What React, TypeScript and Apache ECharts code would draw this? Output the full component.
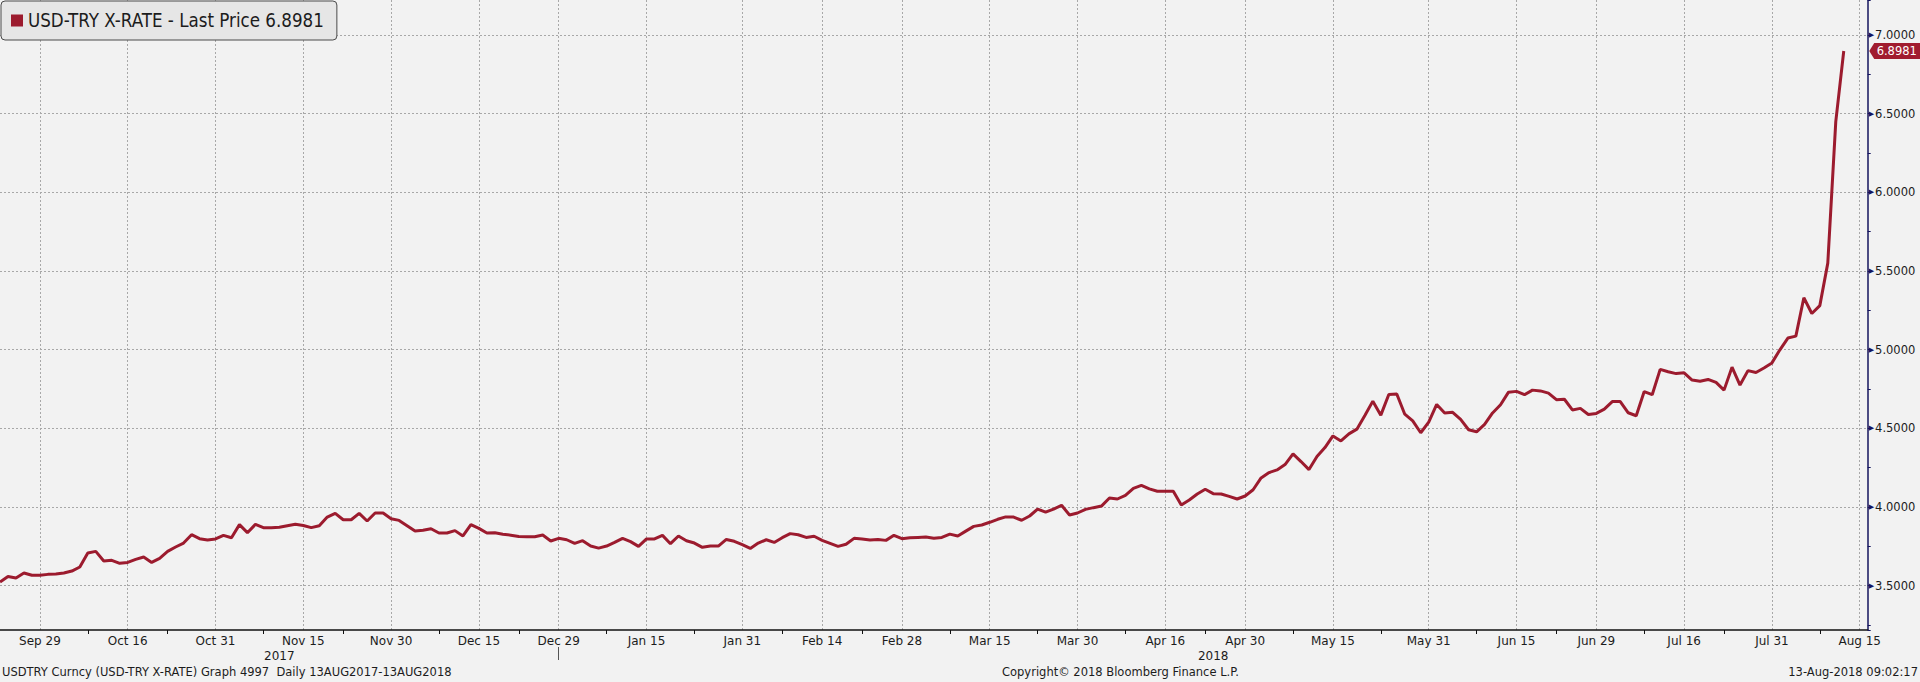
import React, { useEffect, useRef } from 'react';
import * as echarts from 'echarts';

// ---- categories (weekdays, Bloomberg style: no weekend gaps) ----
const FIRST_DAY = '2017-09-22';
const LAST_DAY = '2018-08-16';

// labelled dates on the x axis (also carry a vertical grid line)
const labelDates = [
  '2017-09-29', '2017-10-16', '2017-10-31', '2017-11-15', '2017-11-30', '2017-12-15', '2017-12-29',
  '2018-01-15', '2018-01-31', '2018-02-14', '2018-02-28', '2018-03-15', '2018-03-30', '2018-04-16',
  '2018-04-30', '2018-05-15', '2018-05-31', '2018-06-15', '2018-06-29', '2018-07-16', '2018-07-31',
  '2018-08-15',
];
// small ticks between labels
const minorTickDates = [
  '2017-10-09', '2017-10-23', '2017-11-08', '2017-11-22', '2017-12-08', '2017-12-22', '2018-01-08',
  '2018-01-23', '2018-02-07', '2018-02-21', '2018-03-08', '2018-03-23', '2018-04-09', '2018-04-23',
  '2018-05-08', '2018-05-23', '2018-06-08', '2018-06-22', '2018-07-09', '2018-07-23', '2018-08-08',
];
const yearSeparatorDates = ['2017-12-29'];
const yearLabelDates = ['2017-11-10', '2018-04-24'];

// ---- USD-TRY daily prices ----
const pricesSep2017 = [3.523, 3.559, 3.549, 3.581, 3.566, 3.566];
const pricesOct2017 = [3.572, 3.574, 3.581, 3.593, 3.619, 3.708, 3.718, 3.657, 3.661, 3.642, 3.648, 3.667, 3.682, 3.648, 3.674, 3.718, 3.746, 3.771, 3.824, 3.799, 3.790, 3.797];
const pricesNov2017 = [3.820, 3.805, 3.888, 3.837, 3.890, 3.869, 3.869, 3.871, 3.881, 3.890, 3.883, 3.869, 3.881, 3.936, 3.960, 3.919, 3.919, 3.960, 3.911, 3.962, 3.962, 3.926];
const pricesDec2017 = [3.915, 3.881, 3.847, 3.852, 3.862, 3.835, 3.835, 3.850, 3.816, 3.888, 3.864, 3.835, 3.837, 3.827, 3.821, 3.813, 3.811, 3.811, 3.822, 3.784, 3.801];
const pricesJan2018 = [3.792, 3.769, 3.786, 3.752, 3.739, 3.752, 3.775, 3.801, 3.780, 3.750, 3.797, 3.797, 3.820, 3.767, 3.816, 3.786, 3.771, 3.744, 3.752, 3.752, 3.794, 3.782, 3.761];
const pricesFeb2018 = [3.737, 3.771, 3.792, 3.775, 3.805, 3.831, 3.824, 3.807, 3.814, 3.788, 3.769, 3.750, 3.763, 3.801, 3.797, 3.790, 3.794, 3.788, 3.820, 3.799];
const pricesMar2018 = [3.805, 3.807, 3.809, 3.801, 3.807, 3.828, 3.816, 3.847, 3.877, 3.886, 3.903, 3.922, 3.937, 3.936, 3.916, 3.943, 3.987, 3.968, 3.987, 4.011, 3.949, 3.962];
const pricesApr2018 = [3.985, 3.996, 4.006, 4.057, 4.051, 4.074, 4.119, 4.138, 4.115, 4.100, 4.100, 4.100, 4.013, 4.045, 4.083, 4.113, 4.085, 4.083, 4.068, 4.051, 4.070];
const pricesMay2018 = [4.110, 4.185, 4.219, 4.236, 4.270, 4.338, 4.289, 4.238, 4.321, 4.378, 4.452, 4.420, 4.465, 4.495, 4.582, 4.673, 4.584, 4.715, 4.718, 4.590, 4.548, 4.472, 4.540];
const pricesJun2018 = [4.652, 4.598, 4.602, 4.557, 4.491, 4.478, 4.525, 4.598, 4.650, 4.730, 4.735, 4.714, 4.743, 4.738, 4.724, 4.682, 4.685, 4.617, 4.627, 4.588, 4.595];
const pricesJul2018 = [4.622, 4.670, 4.670, 4.599, 4.580, 4.734, 4.714, 4.875, 4.860, 4.848, 4.853, 4.807, 4.799, 4.811, 4.792, 4.743, 4.889, 4.775, 4.867, 4.855, 4.884, 4.916];
const pricesAug2018 = [4.999, 5.074, 5.086, 5.330, 5.230, 5.280, 5.550, 6.450, 6.8981];

const SERIES_NAME = 'USD-TRY X-RATE';
const Y_MIN = 3.2184;
const Y_MAX = 7.2225;

const FOOTER_LEFT = 'USDTRY Curncy (USD-TRY X-RATE) Graph 4997  Daily 13AUG2017-13AUG2018';
const FOOTER_MID = 'Copyright\u00A9 2018 Bloomberg Finance L.P.';
const FOOTER_RIGHT = '13-Aug-2018 09:02:17';

const MONTHS = ['Jan', 'Feb', 'Mar', 'Apr', 'May', 'Jun', 'Jul', 'Aug', 'Sep', 'Oct', 'Nov', 'Dec'];

function weekdays(from: string, to: string): string[] {
  const out: string[] = [];
  const d = new Date(from + 'T00:00:00Z');
  const end = new Date(to + 'T00:00:00Z');
  while (d.getTime() <= end.getTime()) {
    const wd = d.getUTCDay();
    if (wd !== 0 && wd !== 6) out.push(d.toISOString().slice(0, 10));
    d.setUTCDate(d.getUTCDate() + 1);
  }
  return out;
}

function fmtDate(s: string): string {
  const m = parseInt(s.slice(5, 7), 10);
  const day = parseInt(s.slice(8, 10), 10);
  return `${MONTHS[m - 1]} ${day}`;
}

const FONT = "'DejaVu Sans', sans-serif";
const LEGEND_FONT = "'DejaVu Sans Condensed', 'DejaVu Sans', sans-serif";
const TEXT = '#1c1c1c';
const RED = '#9c1b2e';
const NAVY = '#14145e';

export default function App() {
  const ref = useRef<HTMLDivElement>(null);

  useEffect(() => {
    if (!ref.current) return;
    const chart = echarts.init(ref.current, undefined, { renderer: 'svg' });

    const categories = weekdays(FIRST_DAY, LAST_DAY);
    const prices = [
      ...pricesSep2017, ...pricesOct2017, ...pricesNov2017, ...pricesDec2017,
      ...pricesJan2018, ...pricesFeb2018, ...pricesMar2018, ...pricesApr2018,
      ...pricesMay2018, ...pricesJun2018, ...pricesJul2018, ...pricesAug2018,
    ];
    const lastIdx = prices.length - 1;
    const lastPrice = prices[lastIdx];

    const gridBox = { left: -4.3, right: 52.3, top: 0, bottom: 52 };

    const option: any = {
      animation: false,
      backgroundColor: '#f2f2f2',
      textStyle: { fontFamily: FONT },
      grid: [
        { ...gridBox, containLabel: false },
        { ...gridBox, containLabel: false },
      ],
      legend: {
        left: 1,
        top: 1,
        data: [{ name: SERIES_NAME, icon: 'rect' }],
        itemWidth: 12,
        itemHeight: 12,
        itemGap: 0,
        padding: [10, 13, 10, 10],
        backgroundColor: '#e6e6e6',
        borderColor: '#4a4a4a',
        borderWidth: 1,
        borderRadius: 4,
        selectedMode: false,
        formatter: (name: string) => `${name} - Last Price ${lastPrice.toFixed(4)}`,
        textStyle: { fontFamily: LEGEND_FONT, fontSize: 18.6, color: TEXT },
      },
      xAxis: [
        {
          type: 'category',
          gridIndex: 0,
          data: categories,
          boundaryGap: false,
          position: 'bottom',
          axisLine: { show: true, lineStyle: { color: '#111111', width: 1.5 } },
          axisTick: {
            show: true,
            length: 4,
            interval: (_i: number, v: string) => minorTickDates.includes(v),
            lineStyle: { color: '#111111', width: 1 },
          },
          axisLabel: {
            show: true,
            interval: (_i: number, v: string) => labelDates.includes(v),
            formatter: (v: string) => fmtDate(v),
            fontFamily: FONT,
            fontSize: 12,
            color: TEXT,
            margin: 5,
          },
          splitLine: {
            show: true,
            interval: (_i: number, v: string) => labelDates.includes(v),
            lineStyle: { color: '#a8a8a8', type: [2, 2], width: 1 },
          },
        },
        {
          type: 'category',
          gridIndex: 1,
          data: categories,
          boundaryGap: false,
          position: 'bottom',
          offset: 17,
          axisLine: { show: false },
          axisTick: {
            show: true,
            length: 13,
            interval: (_i: number, v: string) => yearSeparatorDates.includes(v),
            lineStyle: { color: '#555555', width: 1 },
          },
          axisLabel: {
            show: true,
            interval: (_i: number, v: string) => yearLabelDates.includes(v),
            formatter: (v: string) => v.slice(0, 4),
            fontFamily: FONT,
            fontSize: 12,
            color: TEXT,
            margin: 3,
          },
          splitLine: { show: false },
        },
      ],
      yAxis: [
        {
          type: 'value',
          gridIndex: 0,
          position: 'right',
          min: Y_MIN,
          max: Y_MAX,
          splitNumber: 8,
          minInterval: 0.5,
          maxInterval: 0.5,
          axisLine: { show: true, lineStyle: { color: NAVY, width: 1.5 } },
          axisTick: { show: false },
          axisLabel: {
            show: true,
            showMinLabel: false,
            showMaxLabel: false,
            margin: 1,
            formatter: (v: number) => `{t|\u25B6}{v|${v.toFixed(4)}}`,
            rich: {
              t: { fontSize: 7, color: NAVY, fontFamily: 'DejaVu Sans', padding: [0, 1, 0, 0] },
              v: { fontSize: 11.5, color: TEXT, fontFamily: FONT },
            },
          },
          splitLine: {
            show: true,
            showMinLine: false,
            showMaxLine: false,
            lineStyle: { color: '#a8a8a8', type: [2, 2], width: 1 },
          },
        },
        {
          type: 'value',
          gridIndex: 1,
          position: 'right',
          min: Y_MIN,
          max: Y_MAX,
          splitNumber: 16,
          minInterval: 0.25,
          maxInterval: 0.25,
          axisLine: { show: false },
          axisTick: { show: true, length: 3, lineStyle: { color: NAVY, width: 1 } },
          axisLabel: { show: false },
          splitLine: { show: false },
        },
      ],
      series: [
        {
          name: SERIES_NAME,
          type: 'line',
          xAxisIndex: 0,
          yAxisIndex: 0,
          data: prices,
          symbol: 'none',
          showSymbol: false,
          lineStyle: { color: RED, width: 3 },
          itemStyle: { color: RED },
          markPoint: {
            silent: true,
            symbol: 'path://M0,8L5,0L51,0L51,16L5,16Z',
            symbolSize: [51, 16],
            symbolOffset: [51, 0],
            itemStyle: { color: '#a11c2f' },
            label: {
              show: true,
              position: 'inside',
              offset: [2, 0],
              color: '#ffffff',
              fontFamily: FONT,
              fontSize: 11.5,
              formatter: (p: any) => Number(p.value).toFixed(4),
            },
            data: [{ coord: [categories[lastIdx], lastPrice], value: lastPrice }],
          },
        },
      ],
      graphic: [
        {
          type: 'text',
          x: 2,
          y: 672,
          style: { text: FOOTER_LEFT, fontFamily: FONT, fontSize: 11.5, fill: TEXT, verticalAlign: 'middle', align: 'left' },
        },
        {
          type: 'text',
          x: 1002,
          y: 672,
          style: { text: FOOTER_MID, fontFamily: FONT, fontSize: 11.5, fill: TEXT, verticalAlign: 'middle', align: 'left' },
        },
        {
          type: 'text',
          x: 1918,
          y: 672,
          style: { text: FOOTER_RIGHT, fontFamily: FONT, fontSize: 11.5, fill: TEXT, verticalAlign: 'middle', align: 'right' },
        },
      ],
    };

    chart.setOption(option);
    return () => chart.dispose();
  }, []);

  return (
    <div
      ref={ref}
      style={{ position: 'absolute', left: 0, top: 0, width: 1920, height: 682, background: '#f2f2f2' }}
    />
  );
}
